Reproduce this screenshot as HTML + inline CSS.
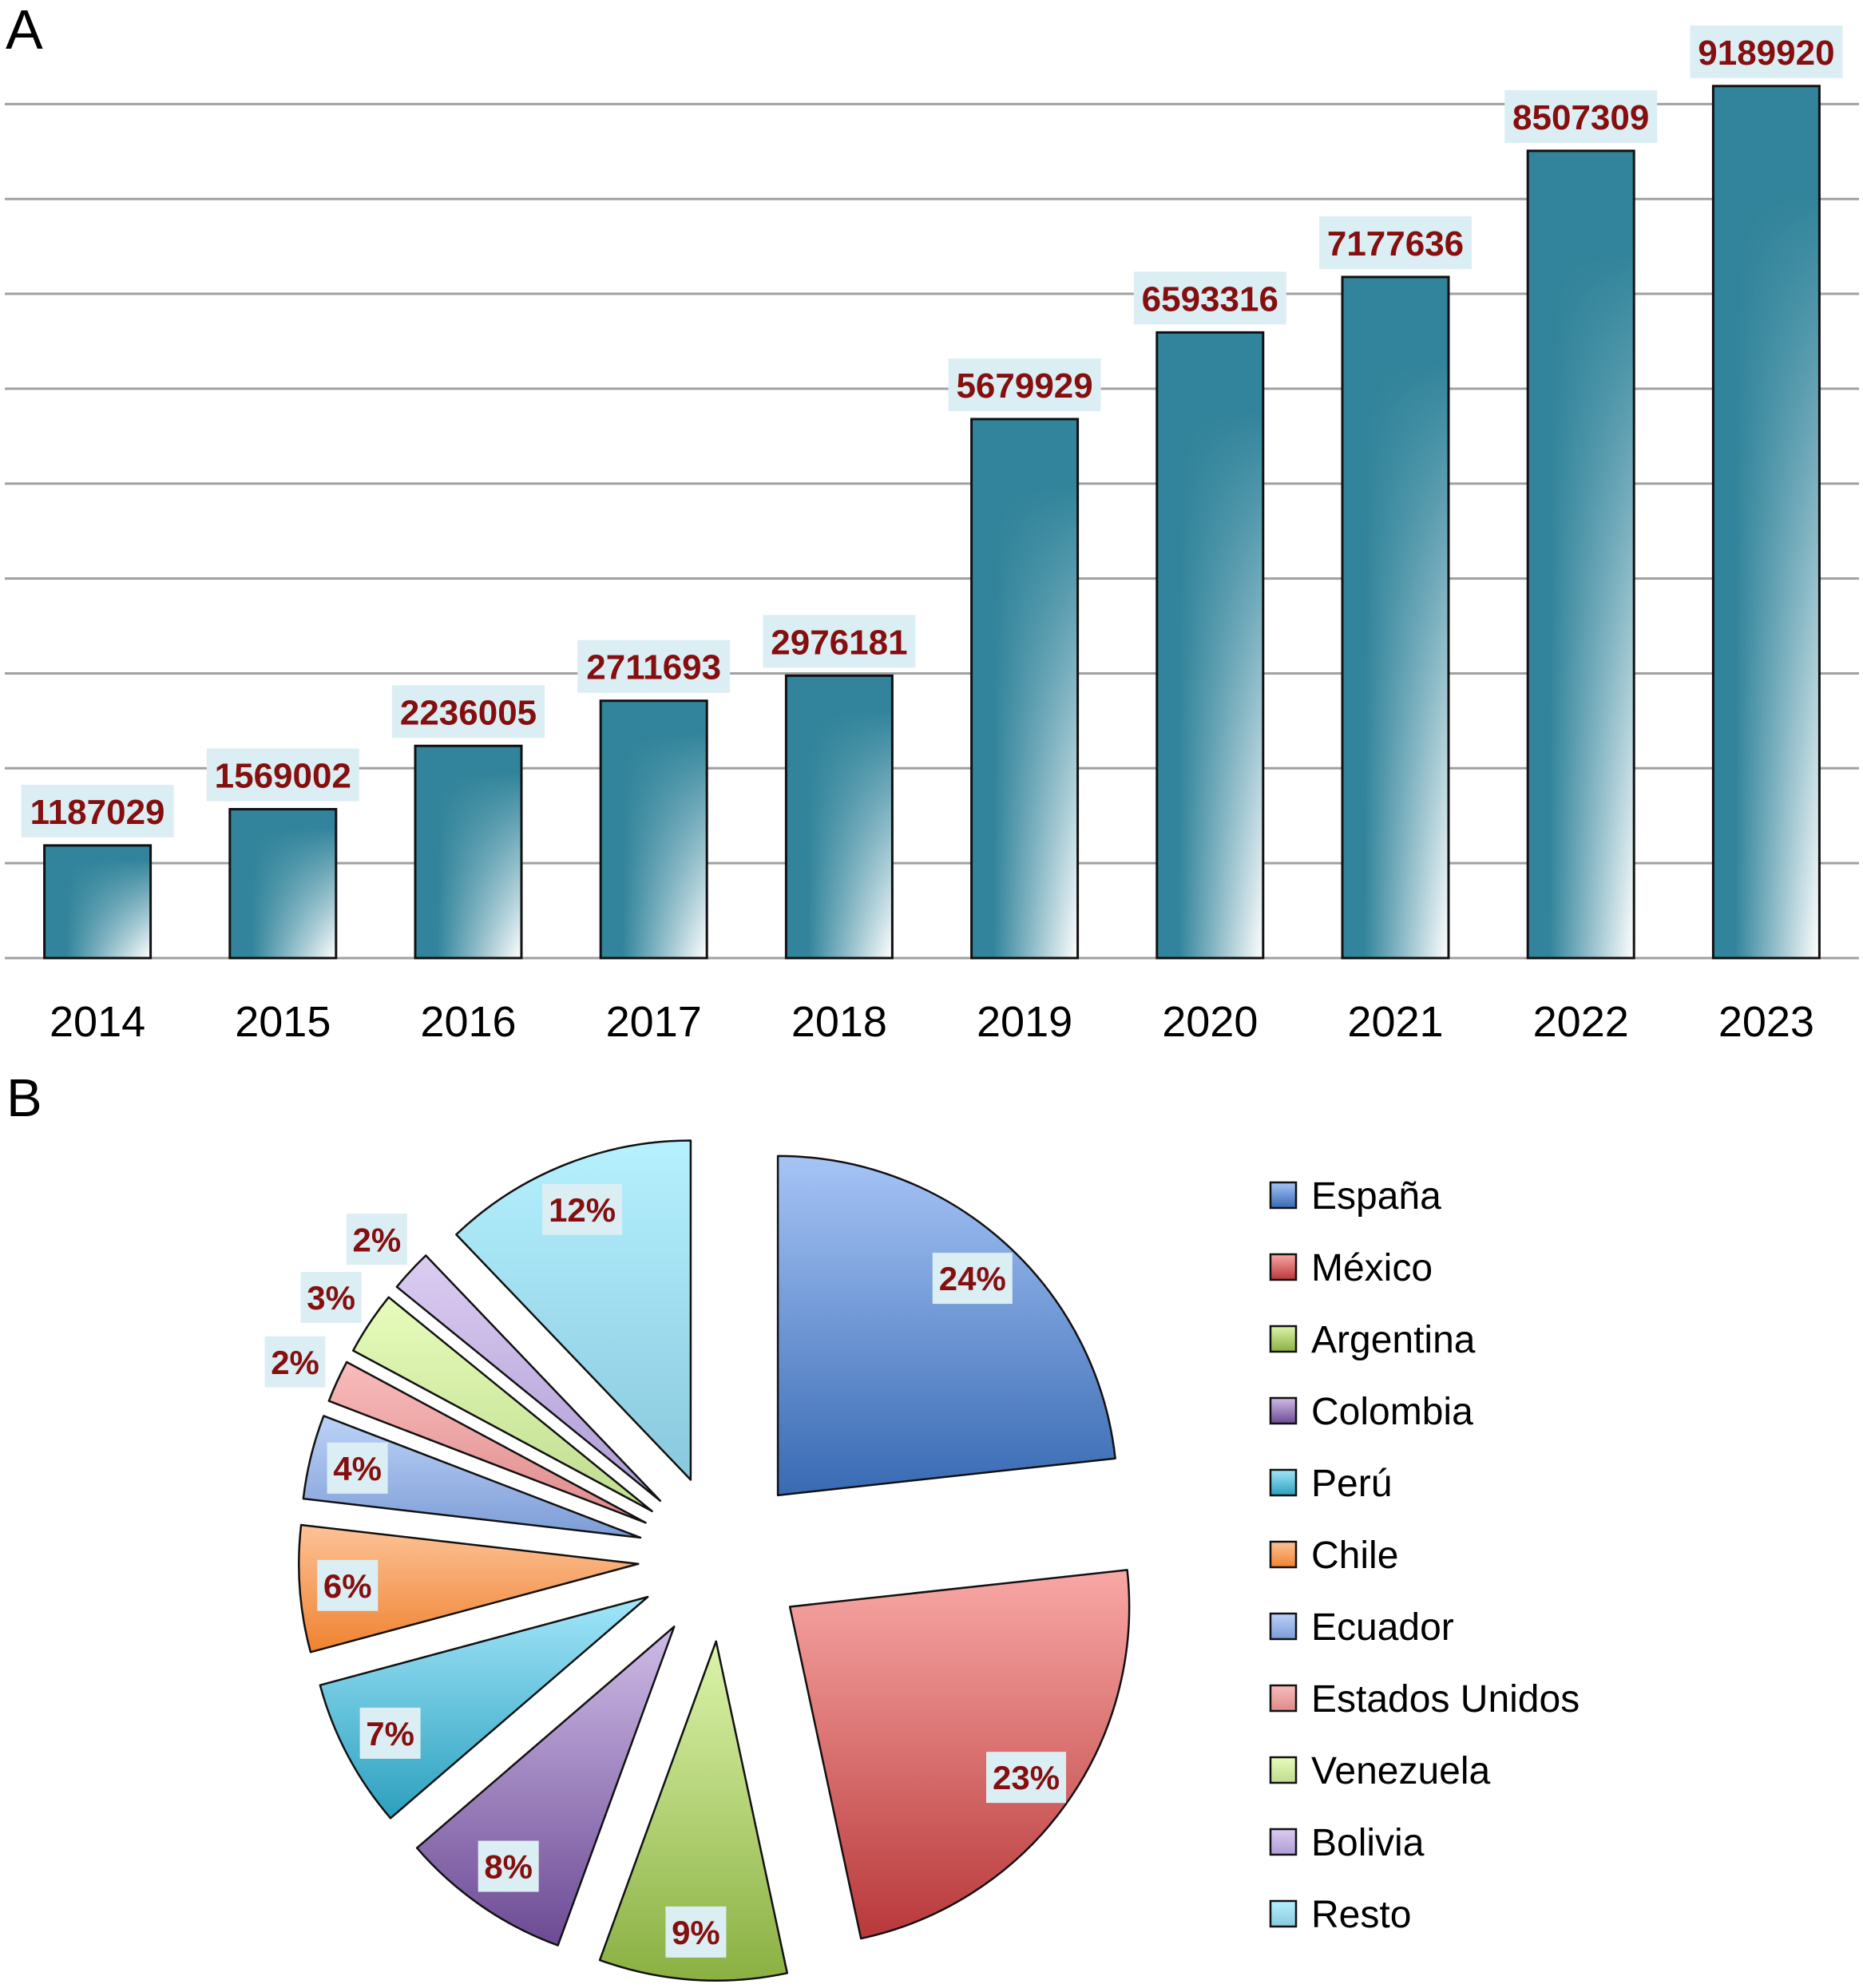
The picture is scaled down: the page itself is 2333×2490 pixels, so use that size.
<!DOCTYPE html>
<html><head><meta charset="utf-8"><style>
html,body{margin:0;padding:0;background:#fff;}
svg{display:block;}
text{font-family:"Liberation Sans",sans-serif;}
</style></head><body>
<svg id="fig" width="2333" height="2490" viewBox="0 0 2333 2490" xmlns="http://www.w3.org/2000/svg">
<defs id="defs">
<linearGradient id="barH" x1="0" y1="0" x2="1" y2="0">
<stop offset="0" stop-color="#ffffff" stop-opacity="0"/><stop offset="0.2" stop-color="#ffffff" stop-opacity="0"/><stop offset="1" stop-color="#ffffff" stop-opacity="1"/>
</linearGradient>
<linearGradient id="barV" x1="0" y1="0" x2="0" y2="1">
<stop offset="0" stop-color="#000"/><stop offset="0.12" stop-color="#000"/><stop offset="1" stop-color="#fff"/>
</linearGradient>
<mask id="barMask" maskUnits="objectBoundingBox" maskContentUnits="objectBoundingBox" x="0" y="0" width="1" height="1">
<rect x="0" y="0" width="1" height="1" fill="url(#barV)"/>
</mask>
</defs>
<text x="7" y="61" font-size="70" fill="#000">A</text>
<text x="8" y="1398" font-size="67" fill="#000">B</text>
<g id="gridG"></g>
<g id="barsG"></g>
<g id="pieG"></g>
<g id="legendG"></g>
</svg>
<script>
// ---- Bar chart data ----
const years = ["2014","2015","2016","2017","2018","2019","2020","2021","2022","2023"];
const counts = [1187029,1569002,2236005,2711693,2976181,5679929,6593316,7177636,8507309,9189920];
const gridTicks = [0,1000000,2000000,3000000,4000000,5000000,6000000,7000000,8000000,9000000];

// ---- Pie data ----
const countries = ["España","México","Argentina","Colombia","Perú","Chile","Ecuador","Estados Unidos","Venezuela","Bolivia","Resto"];
const shares = [23.2,23.3,8.9,8.1,7.1,6.0,4.0,2.0,3.0,2.0,12.1];
const shareLabels = ["24%","23%","9%","8%","7%","6%","4%","2%","3%","2%","12%"];
const colorsTop = ["#a6c4f6","#f8a8a5","#dcf4aa","#cfbce8","#a2e6fa","#fdc398","#bcd2f8","#f9bcbc","#e8fcbc","#dccdf2","#b5f1fe"];
const colorsBot = ["#386ab3","#b9383a","#8ab042","#6c4a94","#2ca0be","#ef8230","#7c9cd6","#de8a8a","#bedc8e","#ad9bd4","#8ac8de"];

const NS = "http://www.w3.org/2000/svg";
function mk(tag, attrs, parent){const e=document.createElementNS(NS,tag);for(const k in attrs)e.setAttribute(k,attrs[k]);parent.appendChild(e);return e;}

const plotL = 6, plotR = 2328, baseY = 1200, pxPerUnit = 118.85/1000000;
const catW = (plotR - plotL) / years.length;
const xC = i => plotL + catW*(i+0.5);
const yS = v => baseY - v*pxPerUnit;
const barW = 133;

const gridG = document.getElementById('gridG');
gridTicks.forEach((t,i)=>{
  const l = mk('line',{x1:plotL,x2:plotR,y1:yS(t),y2:yS(t),stroke:"#a0a0a0","stroke-width":3},gridG);
  
  
});

const barsG = document.getElementById('barsG');
counts.forEach((v,i)=>{
  const x = xC(i)-barW/2, y = yS(v), h = baseY - y;
  const g = mk('g',{},barsG);
  
  
  mk('rect',{x:x,y:y,width:barW,height:h,fill:"#31849b"},g);
  mk('rect',{x:x,y:y,width:barW,height:h,fill:"url(#barH)",mask:"url(#barMask)"},g);
  mk('rect',{x:x,y:y,width:barW,height:h,fill:"none",stroke:"#111","stroke-width":3},g);
  const bw = 191, bh = 66;
  const box = mk('rect',{x:xC(i)-bw/2,y:y-10-bh,width:bw,height:bh,fill:"#dbeef4"},barsG);
  
  
  const t = mk('text',{x:xC(i),y:y-10-bh/2+16,"text-anchor":"middle","font-size":44,"font-weight":"bold",fill:"#850f0f"},barsG);
  t.textContent = String(v);
  
  
  const yl = mk('text',{x:xC(i),y:1298,"text-anchor":"middle","font-size":54,fill:"#000"},barsG);
  yl.textContent = years[i];
  
  
});

// ---- Pie ----
const defs = document.getElementById('defs');
countries.forEach((c,i)=>{
  const lg = mk('linearGradient',{id:'pg'+i,x1:0,y1:0,x2:0,y2:1},defs);
  mk('stop',{offset:0,"stop-color":colorsTop[i]},lg);
  mk('stop',{offset:1,"stop-color":colorsBot[i]},lg);
});
const pieG = document.getElementById('pieG');
const cx = 904, cy = 1951, R = 425, explode = 105;
const total = shares.reduce((a,b)=>a+b,0);
let acc = 0;
const pt = (ox,oy,r,a)=>[ox+r*Math.sin(a), oy-r*Math.cos(a)];
shares.forEach((s,i)=>{
  const a0 = acc/total*2*Math.PI; acc += s;
  const a1 = acc/total*2*Math.PI;
  const am = (a0+a1)/2;
  const [vx,vy] = pt(cx,cy,explode,am);
  const [x0,y0] = pt(vx,vy,R,a0);
  const [x1,y1] = pt(vx,vy,R,a1);
  const large = (a1-a0)>Math.PI?1:0;
  const p = mk('path',{d:`M${vx},${vy} L${x0},${y0} A${R},${R} 0 ${large} 1 ${x1},${y1} Z`,fill:`url(#pg${i})`,stroke:"#111","stroke-width":2.5,"stroke-linejoin":"round"},pieG);
  
  
});
acc = 0;
shares.forEach((s,i)=>{
  const a0 = acc/total*2*Math.PI; acc += s;
  const a1 = acc/total*2*Math.PI;
  const am = (a0+a1)/2;
  const [vx,vy] = pt(cx,cy,explode,am);
  const d = s < 3.5 ? 483 : 365;
  const [lx,ly] = pt(vx,vy,d,am);
  const lbl = shareLabels[i];
  const bw = lbl.length===3 ? 100 : 76, bh = 64;
  const b = mk('rect',{x:lx-bw/2,y:ly-bh/2,width:bw,height:bh,fill:"#dbeef4"},pieG);
  
  
  const t = mk('text',{x:lx,y:ly+15,"text-anchor":"middle","font-size":42,"font-weight":"bold",fill:"#850f0f"},pieG);
  t.textContent = lbl;
  
  
});

// ---- Legend ----
const legendG = document.getElementById('legendG');
countries.forEach((c,i)=>{
  const y = 1497 + i*90;
  const g = mk('g',{},legendG);
  
  
  mk('rect',{x:1591,y:y-16,width:32,height:32,fill:`url(#pg${i})`,stroke:"#111","stroke-width":2.5},g);
  const t = mk('text',{x:1642,y:y+17,"font-size":48,fill:"#000"},g);
  t.textContent = c;
});
</script>
</body></html>
